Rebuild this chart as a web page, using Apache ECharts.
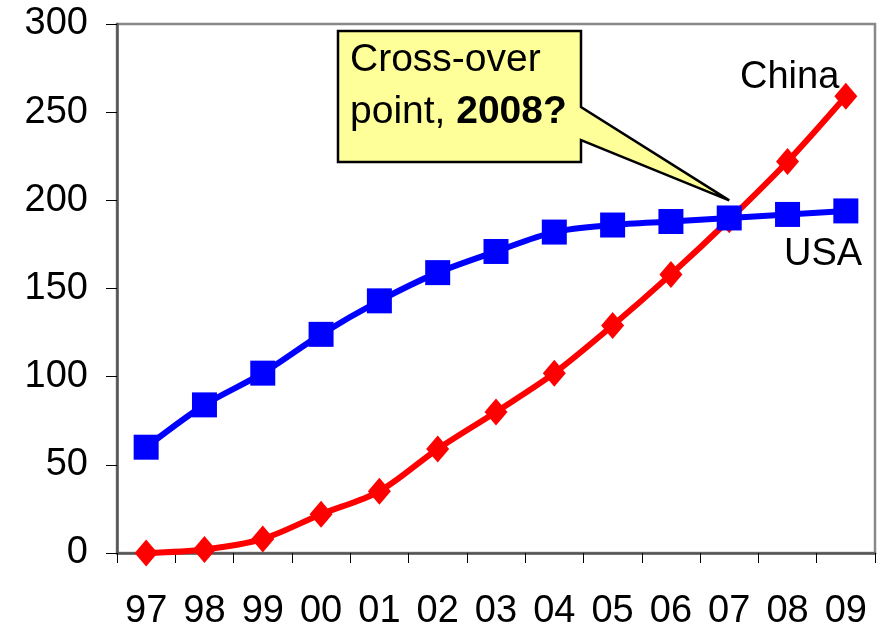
<!DOCTYPE html>
<html>
<head>
<meta charset="utf-8">
<script src="https://cdn.jsdelivr.net/npm/echarts@6/dist/echarts.min.js"></script>
<style>
  html, body { margin: 0; padding: 0; background: #fff; }
  #chart { width: 880px; height: 628px; }
</style>
</head>
<body>
<div id="chart"></div>
<script>
  var years = ['97', '98', '99', '00', '01', '02', '03', '04', '05', '06', '07', '08', '09'];
  var usa = [60, 84, 102, 124, 143, 159, 171, 182, 186, 188, 190, 192, 194];
  var china = [0, 2, 8, 22, 35, 59, 80, 102, 129, 158, 189, 222, 259];
  var yTicks = [0, 50, 100, 150, 200, 250, 300];

  var font = 'Liberation Sans, Arial, sans-serif';
  var myChart = echarts.init(document.getElementById('chart'));

  var option = {
    animation: false,
    grid: {
      left: 117, right: 5, top: 24, bottom: 75,
      outerBoundsMode: 'none',
      show: true, borderColor: '#888', borderWidth: 2.5
    },
    xAxis: {
      type: 'category',
      data: years,
      boundaryGap: true,
      axisLine: { lineStyle: { color: '#555', width: 2.5 } },
      axisTick: { show: true, length: 10, lineStyle: { color: '#000', width: 1 } },
      axisLabel: { color: '#000', fontSize: 38, fontFamily: font, margin: 40, interval: 0 },
      splitLine: { show: false }
    },
    yAxis: {
      type: 'value',
      min: yTicks[0],
      max: yTicks[yTicks.length - 1],
      interval: 50,
      axisLine: { show: true, lineStyle: { color: '#555', width: 2.5 } },
      axisTick: { show: true, length: 11, lineStyle: { color: '#000', width: 1 } },
      axisLabel: { color: '#000', fontSize: 38, fontFamily: font, margin: 29 },
      splitLine: { show: false }
    },
    series: [
      {
        name: 'USA',
        type: 'line',
        data: usa,
        smooth: 0.3,
        symbol: 'rect',
        symbolSize: [25, 25],
        itemStyle: { color: '#0000ff' },
        lineStyle: { color: '#0000ff', width: 6 },
        z: 3
      },
      {
        name: 'China',
        type: 'line',
        data: china,
        smooth: 0.3,
        symbol: 'diamond',
        symbolSize: [23, 27],
        itemStyle: { color: '#ff0000' },
        lineStyle: { color: '#ff0000', width: 6 },
        z: 2
      }
    ]
  };
  myChart.setOption(option);

  // callout pointing at the cross-over, between 07 and 08
  var tip = myChart.convertToPixel({ gridIndex: 0 }, [10.15, 200]);
  myChart.setOption({
    graphic: [
      {
        type: 'polygon',
        shape: {
          points: [[338, 31], [581, 31], [581, 107], [tip[0], tip[1]],
                   [581, 140], [581, 162], [338, 162]]
        },
        style: { fill: '#ffff99', stroke: '#000', lineWidth: 2.5, lineJoin: 'miter' },
        z: 10
      },
      {
        type: 'text',
        x: 350, y: 34,
        style: {
          text: '{n|Cross-over}\n{n|point, }{b|2008?}',
          verticalAlign: 'top',
          rich: {
            n: { fontSize: 39, fontFamily: font, color: '#000', lineHeight: 52 },
            b: { fontSize: 39, fontFamily: font, color: '#000', fontWeight: 'bold', lineHeight: 52 }
          }
        },
        z: 12
      },
      {
        type: 'text', x: 740, y: 78,
        style: { text: 'China', fontSize: 38, fontFamily: font, fill: '#000', verticalAlign: 'middle' },
        z: 12
      },
      {
        type: 'text', x: 784, y: 255,
        style: { text: 'USA', fontSize: 38, fontFamily: font, fill: '#000', verticalAlign: 'middle' },
        z: 12
      }
    ]
  });
</script>
</body>
</html>
